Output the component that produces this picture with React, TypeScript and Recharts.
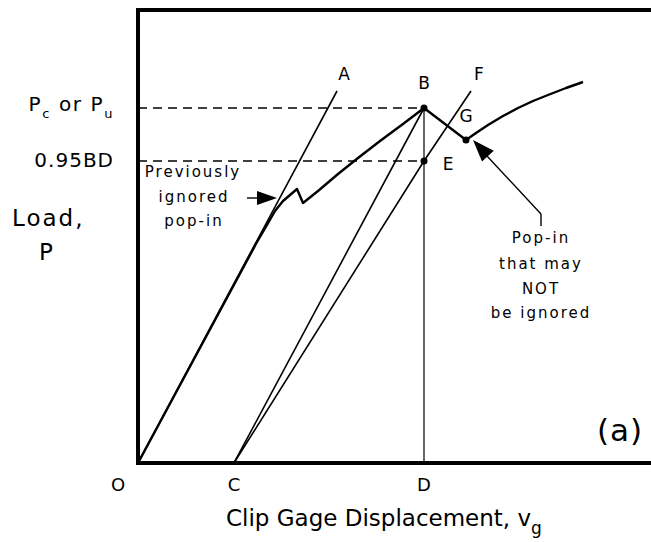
import React from 'react';
import { ComposedChart, Line, XAxis, YAxis, ReferenceLine, ReferenceDot } from 'recharts';

const FONT = '"DejaVu Sans", sans-serif';

// Load-displacement record (v = clip gage displacement, p = load)
const loadCurve = [
  { v: 0, p: 0 },
  { v: 119, p: 221 },
  { v: 129, p: 238 },
  { v: 137, p: 252 },
  { v: 145, p: 262 },
  { v: 159, p: 274 },
  { v: 165, p: 260 },
  { v: 180, p: 272 },
  { v: 200, p: 289 },
  { v: 220, p: 305 },
  { v: 242, p: 322 },
  { v: 265, p: 339 },
  { v: 286, p: 355 },
  { v: 328, p: 323 },
  { v: 338, p: 330 },
  { v: 350, p: 338 },
  { v: 365, p: 347 },
  { v: 380, p: 355 },
  { v: 395, p: 362 },
  { v: 410, p: 368 },
  { v: 428, p: 375 },
  { v: 445, p: 381 },
];
const lineOA = [{ v: 0, p: 0 }, { v: 199, p: 372 }];
const lineCB = [{ v: 96, p: 0 }, { v: 286, p: 355 }];
const lineCEF = [{ v: 96, p: 0 }, { v: 286, p: 302 }, { v: 333, p: 372 }];

const pointB = { v: 286, p: 355 };
const pointE = { v: 286, p: 302 };
const pointG = { v: 328, p: 323 };

const xTickValues = [0, 96, 286];
const xTickLabels = ['O', 'C', 'D'];
const yTickValues = [356, 302];

const X_MAX = 562;
const Y_MAX = 453;

const XTick = (props: any) => {
  const { x, y, payload } = props;
  const i = xTickValues.indexOf(payload.value);
  const shift = i === 0 ? -20 : 0;
  return (
    <text x={x + shift} y={y + 28} textAnchor="middle" fontSize={18} fontFamily={FONT} fill="#000">
      {xTickLabels[i]}
    </text>
  );
};

const YTick = (props: any) => {
  const { x, y, payload } = props;
  if (payload.value === 356) {
    return (
      <text x={x} y={y + 4} textAnchor="end" fontSize={20} fontFamily={FONT} fill="#000" letterSpacing={1.6}>
        <tspan>P</tspan>
        <tspan dy={7} fontSize={13}>c</tspan>
        <tspan dy={-7}> or P</tspan>
        <tspan dy={7} fontSize={13}>u</tspan>
      </text>
    );
  }
  return (
    <text x={x} y={y + 6} textAnchor="end" fontSize={20} fontFamily={FONT} fill="#000" letterSpacing={1}>
      0.95BD
    </text>
  );
};

const XTitle = (props: any) => {
  const vb = props.viewBox || { x: 138, y: 463 };
  return (
    <text x={vb.x + 88} y={vb.y + 63} fontSize={23} fontFamily={FONT} fill="#000">
      <tspan>Clip Gage Displacement, v</tspan>
      <tspan dy={8} fontSize={17}>g</tspan>
    </text>
  );
};

const YTitle = (props: any) => {
  const vb = props.viewBox || { x: 0, y: 10 };
  return (
    <g>
      <text x={vb.x + 12} y={vb.y + 216} fontSize={23} fontFamily={FONT} fill="#000" letterSpacing={2}>
        Load,
      </text>
      <text x={vb.x + 39} y={vb.y + 250} fontSize={23} fontFamily={FONT} fill="#000">
        P
      </text>
    </g>
  );
};

const arrowRight = (props: any) => {
  const { cx, cy } = props;
  return <polygon points={`${cx},${cy} ${cx - 20},${cy - 7} ${cx - 20},${cy + 7}`} fill="#000" />;
};

const arrowUpLeft = (props: any) => {
  const { cx, cy } = props;
  const ux = 0.677, uy = 0.736;
  const nx = -uy, ny = ux;
  const bx = cx + 22 * ux, by = cy + 22 * uy;
  return (
    <polygon
      points={`${cx},${cy} ${bx + 8 * nx},${by + 8 * ny} ${bx - 8 * nx},${by - 8 * ny}`}
      fill="#000"
    />
  );
};

const labels = [
  { v: 206, p: 389, text: 'A', size: 17, spacing: 0 },
  { v: 286, p: 380, text: 'B', size: 17, spacing: 0 },
  { v: 341, p: 389, text: 'F', size: 17, spacing: 0 },
  { v: 328, p: 347, text: 'G', size: 17, spacing: 0 },
  { v: 310, p: 299, text: 'E', size: 17, spacing: 0 },
  { v: 55, p: 291, text: 'Previously', size: 15, spacing: 2 },
  { v: 56, p: 266, text: 'ignored', size: 15, spacing: 2 },
  { v: 56, p: 242, text: 'pop-in', size: 15, spacing: 2 },
  { v: 403, p: 225, text: 'Pop-in', size: 15, spacing: 2 },
  { v: 403, p: 199, text: 'that may', size: 15, spacing: 2 },
  { v: 403, p: 174, text: 'NOT', size: 15, spacing: 2 },
  { v: 403, p: 150, text: 'be ignored', size: 15, spacing: 2 },
  { v: 482, p: 33, text: '(a)', size: 31, spacing: 1 },
];

export default function App() {
  return (
    <div style={{ position: 'absolute', left: 0, top: 0, width: 651, height: 542, overflow: 'hidden', background: '#fff' }}>
      <ComposedChart width={720} height={542} margin={{ top: 10, right: 20, left: 0, bottom: 0 }}>
        <XAxis
          type="number"
          dataKey="v"
          domain={[0, X_MAX]}
          ticks={xTickValues}
          interval={0}
          allowDataOverflow
          height={79}
          tickSize={0}
          tickMargin={0}
          tickLine={false}
          axisLine={{ stroke: '#000', strokeWidth: 4, strokeLinecap: 'square' }}
          tick={XTick}
          label={{ content: XTitle }}
        />
        <YAxis
          type="number"
          dataKey="p"
          domain={[0, Y_MAX]}
          ticks={yTickValues}
          interval={0}
          allowDataOverflow
          width={138}
          tickSize={0}
          tickMargin={24}
          tickLine={false}
          axisLine={{ stroke: '#000', strokeWidth: 4, strokeLinecap: 'square' }}
          tick={YTick}
          label={{ content: YTitle }}
        />
        <ReferenceLine y={Y_MAX} stroke="#000" strokeWidth={4} strokeLinecap="square" />
        <ReferenceLine
          segment={[{ x: 0, y: pointB.p }, { x: pointB.v, y: pointB.p }]}
          stroke="#000"
          strokeWidth={1.3}
          strokeDasharray="9 6"
        />
        <ReferenceLine
          segment={[{ x: 0, y: pointE.p }, { x: pointE.v, y: pointE.p }]}
          stroke="#000"
          strokeWidth={1.3}
          strokeDasharray="9 6"
        />
        <ReferenceLine
          segment={[{ x: pointB.v, y: 0 }, { x: pointB.v, y: pointB.p }]}
          stroke="#000"
          strokeWidth={1.2}
        />
        <Line data={lineOA} dataKey="p" type="linear" stroke="#000" strokeWidth={1.6} dot={false} isAnimationActive={false} />
        <Line data={lineCB} dataKey="p" type="linear" stroke="#000" strokeWidth={1.6} dot={false} isAnimationActive={false} />
        <Line data={lineCEF} dataKey="p" type="linear" stroke="#000" strokeWidth={1.6} dot={false} isAnimationActive={false} />
        <Line data={loadCurve} dataKey="p" type="linear" stroke="#000" strokeWidth={2.4} strokeLinejoin="round" dot={false} isAnimationActive={false} />
        <ReferenceDot x={pointB.v} y={pointB.p} r={3.5} fill="#000" stroke="none" />
        <ReferenceDot x={pointE.v} y={pointE.p} r={3.5} fill="#000" stroke="none" />
        <ReferenceDot x={pointG.v} y={pointG.p} r={3.5} fill="#000" stroke="none" />
        {/* arrow: previously ignored pop-in */}
        <ReferenceLine segment={[{ x: 109, y: 265 }, { x: 121, y: 265 }]} stroke="#000" strokeWidth={1.4} />
        <ReferenceDot x={139} y={265} r={1} shape={arrowRight} />
        {/* arrow: pop-in that may not be ignored */}
        <ReferenceLine segment={[{ x: 349, y: 307 }, { x: 403, y: 249 }]} stroke="#000" strokeWidth={1.4} />
        <ReferenceLine segment={[{ x: 403, y: 249 }, { x: 403, y: 237 }]} stroke="#000" strokeWidth={1.4} />
        <ReferenceDot x={335} y={323} r={1} shape={arrowUpLeft} />
        {labels.map((l) => (
          <ReferenceDot
            key={l.text}
            x={l.v}
            y={l.p}
            r={0}
            fill="none"
            stroke="none"
            label={{ value: l.text, position: 'center', fontSize: l.size, fill: '#000', fontFamily: FONT, letterSpacing: l.spacing }}
          />
        ))}
      </ComposedChart>
    </div>
  );
}
